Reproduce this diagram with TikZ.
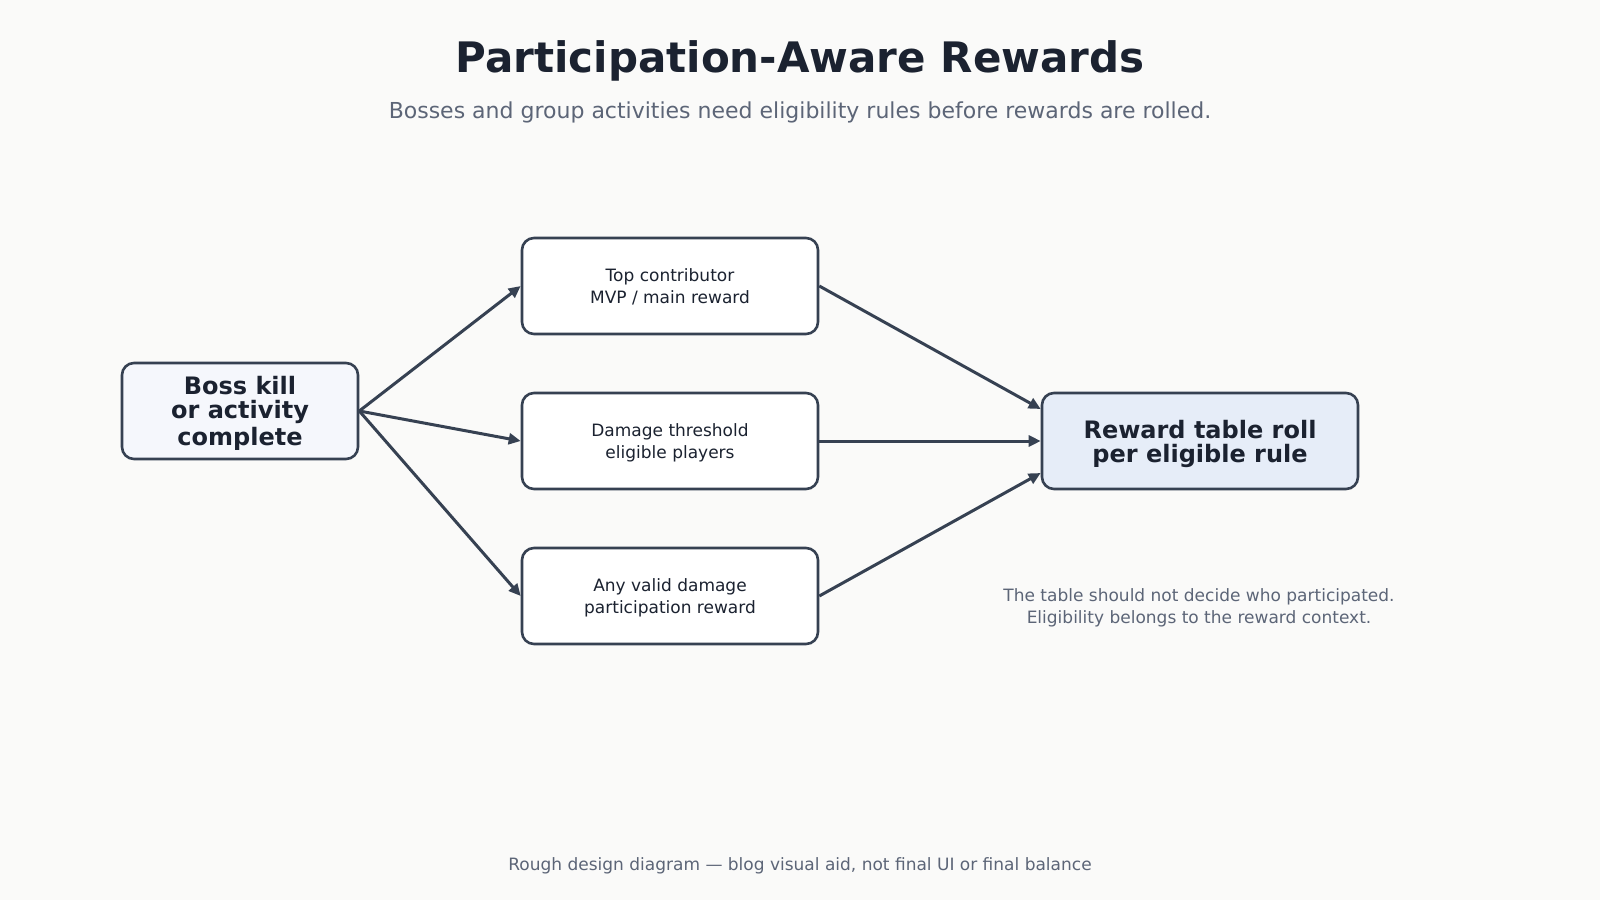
\documentclass[tikz,border=0pt]{standalone}
\usepackage{fontspec}
\setmainfont{DejaVu Sans}
\usetikzlibrary{arrows.meta}

\definecolor{ink}{HTML}{1B2230}
\definecolor{boxline}{HTML}{364152}
\definecolor{muted}{HTML}{5C6577}
\definecolor{paper}{HTML}{FAFAF9}
\definecolor{startfill}{HTML}{F5F7FC}
\definecolor{rollfill}{HTML}{E6EDF8}

\begin{document}
\begin{tikzpicture}[
		every node/.style={align=center, text=ink},
		box/.style={rectangle, rounded corners=12pt, draw=boxline, line width=2.6pt,
			fill=white, minimum width=296pt, minimum height=96pt, text depth=0pt,
			font=\fontsize{17}{22.5}\selectfont},
		bigbox/.style={box, font=\fontsize{24}{24}\selectfont\bfseries},
		note/.style={text=muted, font=\fontsize{17}{22.5}\selectfont},
		link/.style={draw=boxline, line width=3pt, -{Triangle[length=12pt, width=11pt]}}
	]
  \useasboundingbox (0pt, 0pt) rectangle (1600pt, -900pt);
  \fill[paper] (0pt, 0pt) rectangle (1600pt, -900pt);

  % titles
  \node (title) [font=\fontsize{42}{48}\selectfont\bfseries] at (800pt, -61pt) {Participation-Aware Rewards};
  \node (sub) [text=muted, font=\fontsize{22}{26}\selectfont] at (800pt, -112pt)
    {Bosses and group activities need eligibility rules before rewards are rolled.};

  % flow
  \node (boss) [bigbox, fill=startfill, minimum width=236pt] at (240pt, -411pt)
    {Boss kill\\or activity\\[3pt]complete};
  \node (top) [box] at (670pt, -286pt) {Top contributor\\MVP / main reward};
  \node (dmg) [box] at (670pt, -441pt) {Damage threshold\\eligible players};
  \node (any) [box] at (670pt, -596pt) {Any valid damage\\participation reward};
  \node (roll) [bigbox, fill=rollfill, minimum width=316pt] at (1200pt, -441pt)
    {Reward table roll\\per eligible rule};

  \coordinate (rollin1) at ([yshift=32pt]roll.west);
  \coordinate (rollin3) at ([yshift=-32pt]roll.west);

  \draw (boss.east) edge [link] (top.west);
  \draw (boss.east) edge [link] (dmg.west);
  \draw (boss.east) edge [link] (any.west);
  \draw (top.east) edge [link] (rollin1);
  \draw (dmg.east) edge [link] (roll.west);
  \draw (any.east) edge [link] (rollin3);

  % notes
  \node (side) [note] at (1199pt, -608pt)
    {The table should not decide who participated.\\Eligibility belongs to the reward context.};
  \node (foot) [note] at (800pt, -866pt)
    {Rough design diagram — blog visual aid, not final UI or final balance};
\end{tikzpicture}
\end{document}
